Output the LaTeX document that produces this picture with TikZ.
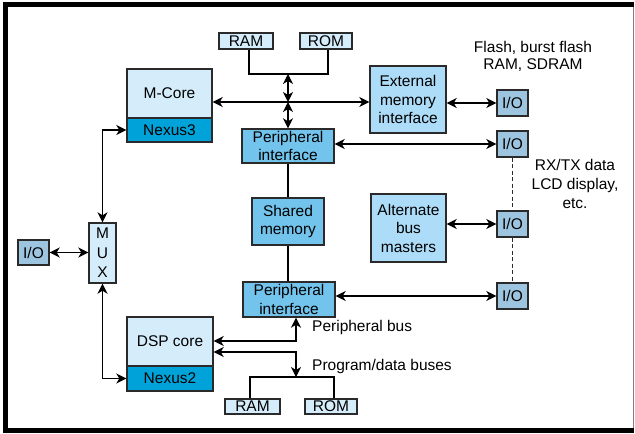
\documentclass[tikz,border=0pt]{standalone}
\usepackage{fontspec}
\setmainfont{Liberation Sans}
\usetikzlibrary{arrows.meta}

\definecolor{corefill}{HTML}{D5ECFA}
\definecolor{nexusfill}{HTML}{00A3D9}
\definecolor{perifill}{HTML}{72C4EC}
\definecolor{extfill}{HTML}{ACDCF7}
\definecolor{iofill}{HTML}{9DC5DF}
\definecolor{edge}{HTML}{2A2A2A}

\tikzset{
  blk/.style={draw=edge, line width=1.4pt, inner sep=0pt, align=center,
    font=\fontsize{15.5}{18.5}\selectfont},
  corebox/.style={blk, fill=corefill},
  nexbox/.style={blk, fill=nexusfill},
  peribox/.style={blk, fill=perifill},
  extbox/.style={blk, fill=extfill},
  iobox/.style={blk, fill=iofill, minimum width=31pt, minimum height=26pt},
  lbl/.style={inner sep=0pt, font=\fontsize{15.5}{18.5}\selectfont},
  bus/.style={line width=1.4pt, draw=black},
  dbl/.style={bus, {Stealth[length=10pt,width=10pt,inset=3pt]}-{Stealth[length=10pt,width=10pt,inset=3pt]}},
  dashline/.style={line width=1.3pt, dash pattern=on 4pt off 2.5pt, draw=edge}
}

\begin{document}
\begin{tikzpicture}[x=1pt, y=-1pt]
\useasboundingbox (0,0) rectangle (635,434);
\fill[white] (0,0) rectangle (635,434);

% outer frame
\fill[black] (2.7,1.7) rectangle (634,7.3);
\fill[black] (2.7,1.7) rectangle (8.3,433.3);
\fill[black] (2.7,427.7) rectangle (634,433.3);
\draw[gray, line width=1pt] (633.7,7) -- (633.7,428);

% memories on the M-Core side
\node[corebox, minimum width=54pt, minimum height=16pt] (ramT) at (246,41) {RAM};
\node[corebox, minimum width=52pt, minimum height=16pt] (romT) at (326,41) {ROM};

% M-Core with its Nexus3 port
\node[corebox, minimum width=85pt, minimum height=49pt] (mcore) at (169.5,93.5) {M-Core};
\node[nexbox, minimum width=85pt, minimum height=24pt] (nex3) at (169.5,130) {Nexus3};

% external memory interface
\node[extbox, minimum width=76pt, minimum height=67pt] (ext) at (408,99.5) {External\\memory\\interface};

% I/O column on the right
\node[iobox] (io1) at (512.5,103) {I/O};
\node[iobox] (io2) at (512.5,144) {I/O};
\node[iobox] (io3) at (512.5,224) {I/O};
\node[iobox] (io4) at (512.5,296) {I/O};

% peripheral interfaces and shared memory
\node[peribox, minimum width=92pt, minimum height=34pt] (per1) at (288,146) {Peripheral\\interface};
\node[peribox, minimum width=72pt, minimum height=47pt] (shm) at (288,221.5) {Shared\\memory};
\node[peribox, minimum width=92pt, minimum height=35pt] (per2) at (289,299.5) {Peripheral\\interface};

% alternate bus masters
\node[extbox, minimum width=75pt, minimum height=68pt] (alt) at (408.5,228) {Alternate\\bus\\masters};

% DSP core with its Nexus2 port
\node[corebox, minimum width=86pt, minimum height=49pt] (dsp) at (170,341.5) {DSP core};
\node[nexbox, minimum width=86pt, minimum height=25pt] (nex2) at (170,378.5) {Nexus2};

% multiplexer and its I/O
\node[corebox, minimum width=27pt, minimum height=60pt, font=\fontsize{15.5}{19.5}\selectfont] (mux) at (102.5,253) {M\\U\\X};
\node[iobox, minimum height=25pt] (ioL) at (33.5,252.5) {I/O};

% memories on the DSP side
\node[corebox, minimum width=55pt, minimum height=15pt] (ramB) at (252.5,406.5) {RAM};
\node[corebox, minimum width=52pt, minimum height=15pt] (romB) at (331,406.5) {ROM};

% bus junction points
\coordinate (tb) at (288,74);
\coordinate (hb) at (288,102);
\coordinate (pb) at (296,341);
\coordinate (pdb) at (296,352);
\coordinate (mb) at (296,377);

% M-Core side buses
\draw[bus] (ramT.south -| 249,0) |- (tb) -| (romT.south -| 328,0);
\draw[dbl] (tb) -- (hb);
\draw[dbl] (hb) -- (per1.north);
\draw[dbl] (mcore.east |- hb) -- (ext.west |- hb);
\draw[dbl] (ext.east |- io1) -- (io1.west);
\draw[dbl] (per1.east |- io2) -- (io2.west);

% shared memory links
\draw[bus] (per1.south) -- (shm.north);
\draw[bus] (shm.south) -- (shm.south |- per2.north);

% DSP side buses
\draw[dbl] (alt.east |- io3) -- (io3.west);
\draw[dbl] (per2.east |- io4) -- (io4.west);
\draw[dbl] (dsp.east |- pb) -- (pb) -- (pb |- per2.south);
\draw[dbl] (dsp.east |- pdb) -- (pdb) -- (mb);
\draw[bus] (ramB.north -| 250,0) |- (mb) -| (romB.north -| 334,0);

% dashed links between I/O ports
\draw[dashline] (io2.south) -- (io3.north);
\draw[dashline] (io3.south) -- (io4.north);

% multiplexer links
\draw[dbl] (ioL.east) -- (mux.west |- ioL);
\draw[dbl] (mux.north) |- (nex3.west);
\draw[dbl] (mux.south) |- (nex2.west);

% annotations
\node[lbl, anchor=base] (fl1) at (533,52) {Flash, burst flash};
\node[lbl, anchor=base] (fl2) at (533,69) {RAM, SDRAM};
\node[lbl, anchor=base] (rx1) at (575,170) {RX/TX data};
\node[lbl, anchor=base] (rx2) at (575,189) {LCD display,};
\node[lbl, anchor=base] (rx3) at (575,208) {etc.};
\node[lbl, anchor=west] (pbl) at (312,327) {Peripheral bus};
\node[lbl, anchor=west] (pdl) at (312,366) {Program/data buses};
\end{tikzpicture}
\end{document}
